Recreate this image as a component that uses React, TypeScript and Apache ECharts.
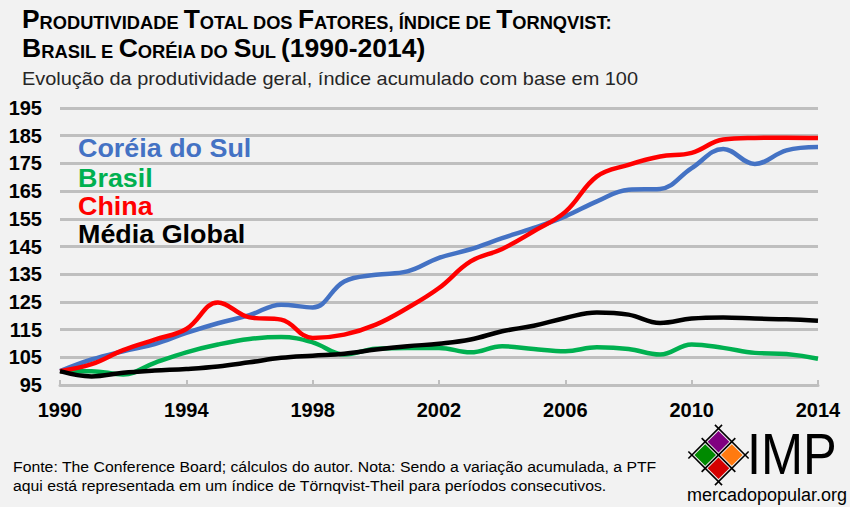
import React, { useEffect, useRef } from "react";
import * as echarts from "echarts";

const years = ["1990","1991","1992","1993","1994","1995","1996","1997","1998","1999","2000","2001","2002","2003","2004","2005","2006","2007","2008","2009","2010","2011","2012","2013","2014"];
const korea = [100, 104.2, 107.2, 109.8, 113.8, 117.3, 120.2, 124, 123, 132.4, 134.8, 136, 140.9, 144, 148, 151.7, 155.9, 161.3, 165.5, 165.8, 173.3, 180.2, 174.8, 179.7, 180.9];
const brasil = [100, 100, 98.8, 103, 106.8, 109.6, 111.6, 112.3, 110.4, 106, 108.1, 108.4, 108.4, 106.8, 109, 108, 107.2, 108.6, 108, 106, 109.6, 108.4, 106.6, 106.2, 104.5];
const china = [100, 102.5, 107.6, 111.4, 115.2, 124.8, 119.4, 118.6, 112, 113.2, 116.8, 122.8, 130, 139.6, 144.1, 150.5, 157.5, 170.3, 174.5, 177.5, 178.8, 183.6, 184.2, 184.3, 184.2];
const global = [100, 98.1, 99.4, 100.2, 100.8, 101.7, 103.2, 104.8, 105.6, 106.3, 107.8, 109, 109.9, 111.4, 114.4, 116.4, 119.2, 121.2, 120.4, 117.4, 119, 119.4, 119, 118.7, 118.2];
const seriesNames = ["Coréia do Sul", "Brasil", "China", "Média Global"];
const seriesColors = ["#4472C4", "#00B050", "#FF0000", "#000000"];

const FONT = "'Liberation Sans', Arial, sans-serif";

function logoElements() {
  const cx = 718.5, cy = 455;
  const d = 18.8, ov = 5, h = 10.8, s = Math.SQRT1_2;
  const els: any[] = [];
  const diamonds = [
    { x: cx, y: cy - d * s, c: "#800080" },
    { x: cx - d * s, y: cy, c: "#008A00" },
    { x: cx + d * s, y: cy, c: "#FF7A10" },
    { x: cx, y: cy + d * s, c: "#D40000" },
  ];
  diamonds.forEach((dm) => {
    els.push({
      type: "polygon",
      shape: { points: [[dm.x, dm.y - h], [dm.x + h, dm.y], [dm.x, dm.y + h], [dm.x - h, dm.y]] },
      style: { fill: dm.c },
    });
  });
  const L = d + ov;
  [-d, 0, d].forEach((k) => {
    const bx = cx + k * s, by = cy + k * s;
    els.push({ type: "line", shape: { x1: bx - L * s, y1: by + L * s, x2: bx + L * s, y2: by - L * s }, style: { stroke: "#000", lineWidth: 1.6 } });
    const vx = cx + k * s, vy = cy - k * s;
    els.push({ type: "line", shape: { x1: vx - L * s, y1: vy - L * s, x2: vx + L * s, y2: vy + L * s }, style: { stroke: "#000", lineWidth: 1.6 } });
  });
  return els;
}

const titleRich = {
  b: { fontSize: 26, fontWeight: "bold", fontFamily: FONT, verticalAlign: "bottom", lineHeight: 28 },
  s: { fontSize: 18, fontWeight: "bold", fontFamily: FONT, verticalAlign: "bottom", lineHeight: 28 },
};

export default function App() {
  const ref = useRef<HTMLDivElement>(null);
  useEffect(() => {
    if (!ref.current) return;
    const chart = echarts.init(ref.current, null, { renderer: "svg" });
    const data = [korea, brasil, china, global];
    chart.setOption({
      animation: false,
      backgroundColor: "#f2f2f2",
      grid: { left: 60, right: 32, top: 108, bottom: 122, containLabel: false },
      xAxis: {
        type: "category",
        data: years,
        boundaryGap: false,
        axisLine: { lineStyle: { color: "#bfbfbf", width: 3 } },
        axisTick: { inside: true, length: 5, interval: 3, lineStyle: { color: "#bfbfbf", width: 2 } },
        axisLabel: { interval: 3, margin: 15, fontSize: 20, fontWeight: "bold", color: "#000", fontFamily: FONT },
        splitLine: { show: false },
      },
      yAxis: {
        type: "value",
        min: 95,
        max: 195,
        interval: 10,
        axisLine: { show: false },
        axisTick: { show: false },
        axisLabel: { margin: 18, fontSize: 20, fontWeight: "bold", color: "#000", fontFamily: FONT },
        splitLine: { lineStyle: { color: "#bfbfbf", width: 3 } },
      },
      series: seriesNames.map((n, i) => ({
        name: n,
        type: "line",
        data: data[i],
        smooth: 0.4,
        symbol: "none",
        lineStyle: { color: seriesColors[i], width: 4.5 },
        z: 2 + i,
      })),
      graphic: [
        {
          type: "text", x: 22, y: 4, scaleX: 1.015,
          style: {
            text: "{b|P}{s|RODUTIVIDADE} {b|T}{s|OTAL DOS} {b|F}{s|ATORES, ÍNDICE DE} {b|T}{s|ORNQVIST:}",
            fontFamily: FONT, fontSize: 18, fontWeight: "bold", fill: "#000", rich: titleRich,
          },
        },
        {
          type: "text", x: 22, y: 33, scaleX: 1.02,
          style: {
            text: "{b|B}{s|RASIL E} {b|C}{s|ORÉIA DO} {b|S}{s|UL} {b|(1990-2014)}",
            fontFamily: FONT, fontSize: 18, fontWeight: "bold", fill: "#000", rich: titleRich,
          },
        },
        {
          type: "text", x: 22, y: 79, scaleX: 1.108,
          style: { text: "Evolução da produtividade geral, índice acumulado com base em 100", fontFamily: FONT, fontSize: 18, fill: "#262626", verticalAlign: "middle" },
        },
        ...seriesNames.map((n, i) => ({
          type: "text", x: 78, y: [148.3, 178, 206, 233.7][i],
          style: { text: n, fontFamily: FONT, fontSize: 26.5, fontWeight: "bold", fill: seriesColors[i], verticalAlign: "middle" },
          scaleX: 1.015,
          z: 10,
        })),
        {
          type: "text", x: 13, y: 466.7, scaleX: 1.09,
          style: { text: "Fonte: The Conference Board; cálculos do autor. Nota: Sendo a variação acumulada, a PTF", fontFamily: FONT, fontSize: 14.5, fill: "#000", verticalAlign: "middle" },
        },
        {
          type: "text", x: 13, y: 485.5, scaleX: 1.09,
          style: { text: "aqui está representada em um índice de Törnqvist-Theil para períodos consecutivos.", fontFamily: FONT, fontSize: 14.5, fill: "#000", verticalAlign: "middle" },
        },
        ...logoElements(),
        {
          type: "text", x: 747, y: 454,
          style: { text: "IMP", fontFamily: FONT, fontSize: 58, fill: "#000", verticalAlign: "middle" },
          scaleX: 0.87,
        },
        {
          type: "text", x: 687, y: 495,
          style: { text: "mercadopopular.org", fontFamily: FONT, fontSize: 18, fill: "#000", verticalAlign: "middle" },
        },
      ],
    });
    return () => chart.dispose();
  }, []);
  return <div ref={ref} style={{ position: "fixed", left: 0, top: 0, width: 850, height: 507 }} />;
}
